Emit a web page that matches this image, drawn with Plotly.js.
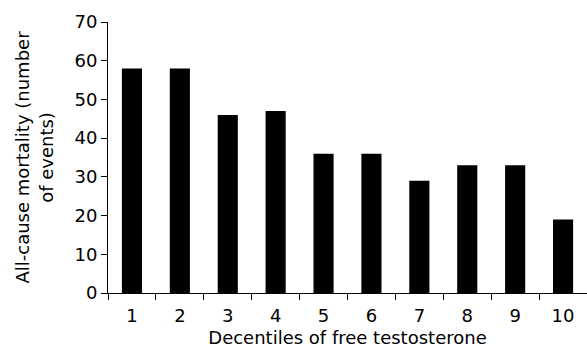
<!DOCTYPE html>
<html>
<head>
<meta charset="utf-8">
<script src="https://cdn.plot.ly/plotly-3.0.1.min.js"></script>
<style>html,body{margin:0;padding:0;background:#fff;}#chart{width:587px;height:353px;}</style>
</head>
<body>
<div id="chart"></div>
<script>
const decentiles = ["1","2","3","4","5","6","7","8","9","10"];
const events = [58, 58, 46, 47, 36, 36, 29, 33, 33, 19];
const yTicks = [0,10,20,30,40,50,60,70];

const FONT = "DejaVu Sans, Liberation Sans, Arial, sans-serif";

const trace = {
  type: "bar",
  x: decentiles,
  y: events,
  width: 0.42,
  marker: {color: "#000000", line: {width: 0}},
  hoverinfo: "skip"
};

const layout = {
  width: 587,
  height: 353,
  margin: {l: 108, r: 0, t: 22, b: 60},
  paper_bgcolor: "#ffffff",
  plot_bgcolor: "#ffffff",
  showlegend: false,
  font: {family: FONT, size: 18, color: "#000000"},
  bargap: 0.58,
  xaxis: {
    type: "category",
    range: [-0.5, 9.5],
    showline: true,
    linecolor: "#000000",
    linewidth: 1,
    ticks: "outside",
    ticklen: 6,
    tickwidth: 1,
    tickcolor: "#000000",
    tickson: "boundaries",
    ticklabelstandoff: 6,
    showgrid: false,
    zeroline: false,
    tickfont: {family: FONT, size: 18, color: "#000"},
    title: {text: "Decentiles of free testosterone", font: {family: FONT, size: 18, color: "#000"}, standoff: 6}
  },
  yaxis: {
    range: [0, 70],
    tickvals: yTicks,
    ticktext: yTicks.map(String),
    showline: true,
    linecolor: "#000000",
    linewidth: 1,
    ticks: "outside",
    ticklen: 6,
    tickwidth: 1,
    tickcolor: "#000000",
    showgrid: false,
    zeroline: false,
    tickfont: {family: FONT, size: 18, color: "#000"},
    title: {text: "All-cause mortality (number<br>of events)", font: {family: FONT, size: 18, color: "#000"}, standoff: 16}
  }
};

Plotly.newPlot("chart", [trace], layout, {staticPlot: true, displayModeBar: false});
</script>
</body>
</html>
